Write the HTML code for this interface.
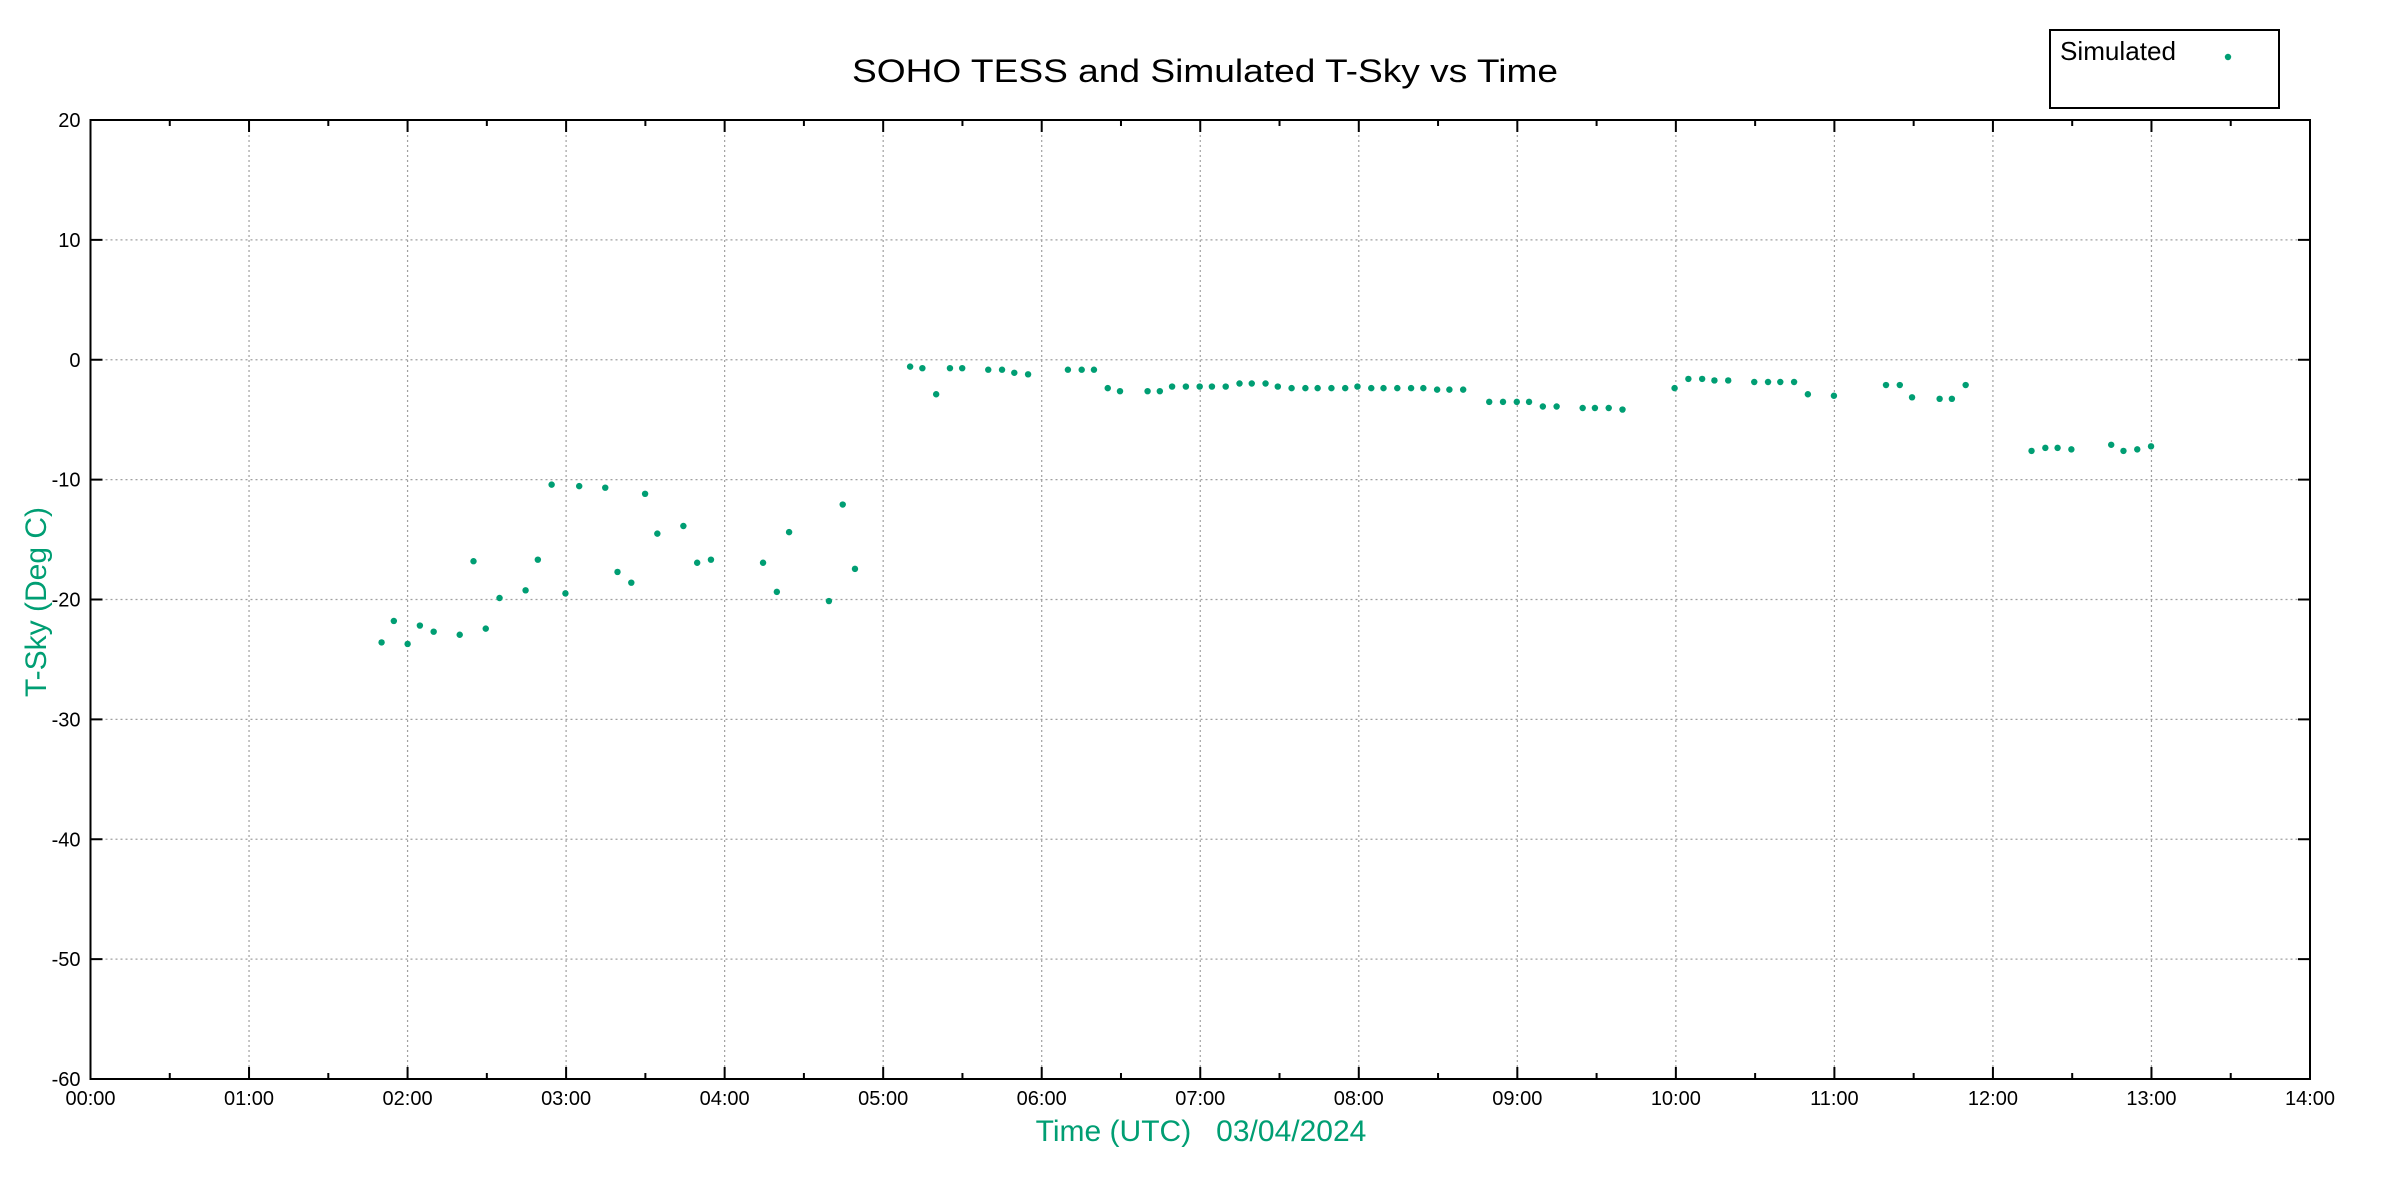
<!DOCTYPE html>
<html><head><meta charset="utf-8"><style>
html,body{margin:0;padding:0;background:#fff;}
svg{display:block;font-family:"Liberation Sans",Arial,sans-serif;}
</style></head><body>
<svg id="s" width="2400" height="1200" viewBox="0 0 2400 1200" xmlns="http://www.w3.org/2000/svg">
<rect width="2400" height="1200" fill="#fff"/>
<g id="grid" stroke="#a0a0a0" stroke-width="1.2" stroke-dasharray="2,3"></g>
<g id="ticks" stroke="#000" stroke-width="2"></g>
<rect x="90.5" y="120" width="2219.5" height="959" fill="none" stroke="#000" stroke-width="2"/>
<g id="labels" font-size="20" fill="#000"></g>
<text x="1205" y="82" font-size="32" text-anchor="middle" textLength="706" lengthAdjust="spacingAndGlyphs">SOHO TESS and Simulated T-Sky vs Time</text>
<text x="1201" y="1141" font-size="30" fill="#009e73" text-anchor="middle" xml:space="preserve">Time (UTC)   03/04/2024</text>
<text transform="translate(46,602) rotate(-90)" font-size="30" fill="#009e73" text-anchor="middle">T-Sky (Deg C)</text>
<rect x="2050" y="30" width="229" height="78" fill="#fff" stroke="#000" stroke-width="2"/>
<text x="2060" y="60" font-size="26" textLength="116" lengthAdjust="spacingAndGlyphs">Simulated</text>
<circle cx="2228" cy="57" r="3.2" fill="#009e73"/>
<g id="pts" fill="#009e73" transform="translate(90.5,120) scale(1.532) translate(-59,-78)"></g>
</svg>
<script>
var NS="http://www.w3.org/2000/svg";
function el(p,t,a,txt){var e=document.createElementNS(NS,t);for(var k in a)e.setAttribute(k,a[k]);if(txt!=null)e.textContent=txt;document.getElementById(p).appendChild(e);}
var x0=90.5,x1=2310,y0=120,y1=1079,ph=(x1-x0)/14,pv=(y1-y0)/8;
for(var h=0;h<=14;h++){var x=x0+ph*h;
 if(h>0&&h<14)el("grid","line",{x1:x,y1:y0,x2:x,y2:y1});
 el("ticks","line",{x1:x,y1:y1,x2:x,y2:y1-12});el("ticks","line",{x1:x,y1:y0,x2:x,y2:y0+12});
 if(h<14){var xm=x+ph/2;el("ticks","line",{x1:xm,y1:y1,x2:xm,y2:y1-6});el("ticks","line",{x1:xm,y1:y0,x2:xm,y2:y0+6});}
 el("labels","text",{x:x,y:y1+26,"text-anchor":"middle"},(h<10?"0":"")+h+":00");}
for(var k=0;k<=8;k++){var y=y0+pv*k;
 if(k>0&&k<8)el("grid","line",{x1:x0,y1:y,x2:x1,y2:y});
 el("ticks","line",{x1:x0,y1:y,x2:x0+12,y2:y});el("ticks","line",{x1:x1,y1:y,x2:x1-12,y2:y});
 el("labels","text",{x:x0-10,y:y+7,"text-anchor":"end"},String(20-10*k));}
var P=[[249,419],[257,405],[266,420],[274,408],[283,412],[300,414],[309,366],[317,410],[326,390],[343,385],[351,365],[360,316],[369,387],[378,317],[395,318],[403,373],[412,380],[421,322],[429,348],[446,343],[455,367],[464,365],[498,367],[507,386],[515,347],[541,392],[550,329],[558,371],
[594,239],[602,240],[611,257],[620,240],[628,240],[645,241],[654,241],[662,243],[671,244],[697,241],[706,241],[714,241],[723,253],[731,255],[749,255],[757,255],[765,252],[774,252],[783,252],[791,252],[800,252],[809,250],[817,250],[826,250],[834,252],[843,253],[852,253],[860,253],[869,253],[878,253],[886,252],[895,253],[903,253],[912,253],[921,253],[929,253],[938,254],[946,254],[955,254],[972,262],[981,262],[990,262],[998,262],[1007,265],[1016,265],[1033,266],[1041,266],[1050,266],[1059,267],[1093,253],[1102,247],[1111,247],[1119,248],[1128,248],[1145,249],[1154,249],[1162,249],[1171,249],[1180,257],[1197,258],[1231,251],[1240,251],[1248,259],[1266,260],[1274,260],[1283,251],[1326,294],[1335,292],[1343,292],[1352,293],[1378,290],[1386,294],[1395,293],[1404,291]];
P.forEach(function(p){el("pts","circle",{cx:p[0],cy:p[1],r:2.1});});
</script>
</body></html>
